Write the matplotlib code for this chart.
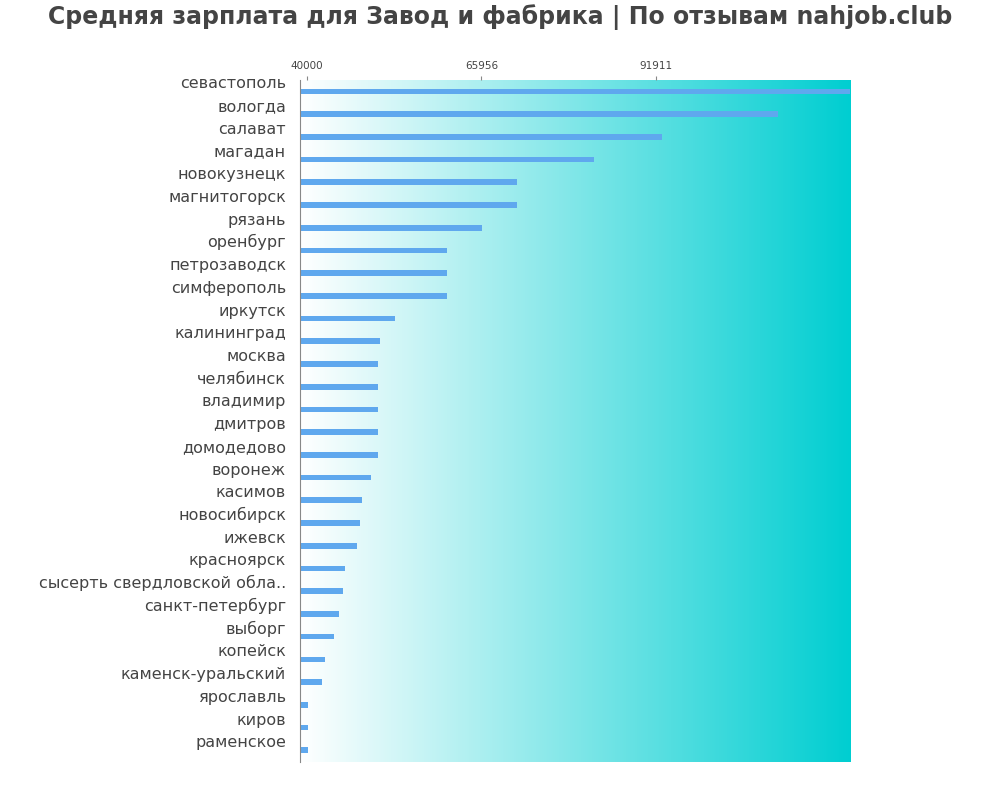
import matplotlib
matplotlib.use("Agg")
import matplotlib.pyplot as plt
import numpy as np
from matplotlib.colors import LinearSegmentedColormap

cities = ["севастополь","вологда","салават","магадан","новокузнецк","магнитогорск","рязань",
          "оренбург","петрозаводск","симферополь","иркутск","калининград","москва","челябинск",
          "владимир","дмитров","домодедово","воронеж","касимов","новосибирск","ижевск",
          "красноярск","сысерть свердловской обла..","санкт-петербург","выборг","копейск",
          "каменск-уральский","ярославль","киров","раменское"]
salaries = [125000,110060,92800,82690,71240,71240,66030,60820,60820,60820,53090,50860,50560,50560,
            50560,50560,50560,49520,48180,47880,47440,45650,45355,44760,44020,42680,42230,40150,40150,40150]
ticks = [40000, 65956, 91911]

fig = plt.figure(figsize=(10, 8), dpi=100)
ax = fig.add_axes([0.30, 0.048, 0.55, 0.852])
xmin, xmax = 38959, 120770
n = len(cities)
y = np.arange(n)
cmap = LinearSegmentedColormap.from_list("g", ["#ffffff", "#00ced1"])
grad = np.linspace(0, 1, 256).reshape(1, -1)
ax.imshow(grad, cmap=cmap, aspect="auto", extent=[xmin, xmax, n - 0.5, -0.5], zorder=0)
ax.barh(y, np.array(salaries) - xmin, left=xmin, height=0.25, color="#5fa8ee", zorder=2)
ax.set_xlim(xmin, xmax)
ax.set_ylim(n - 0.5, -0.5)
ax.set_yticks(y)
ax.set_yticklabels(cities, fontsize=11.5, color="#444444")
ax.tick_params(axis="y", length=0, pad=10)
for lbl in ax.get_yticklabels():
    lbl.set_va("bottom")
ax.xaxis.tick_top()
ax.set_xticks(ticks)
ax.set_xticklabels([str(t) for t in ticks], fontsize=7.5, color="#444444")
ax.tick_params(axis="x", length=3, color="#888888")
for s in ["top", "right", "bottom"]:
    ax.spines[s].set_visible(False)
ax.spines["left"].set_color("#888888")
fig.suptitle("Средняя зарплата для Завод и фабрика | По отзывам nahjob.club",
             fontsize=17, fontweight="bold", color="#444444", x=0.5, y=0.995)
fig.savefig("out.png")
